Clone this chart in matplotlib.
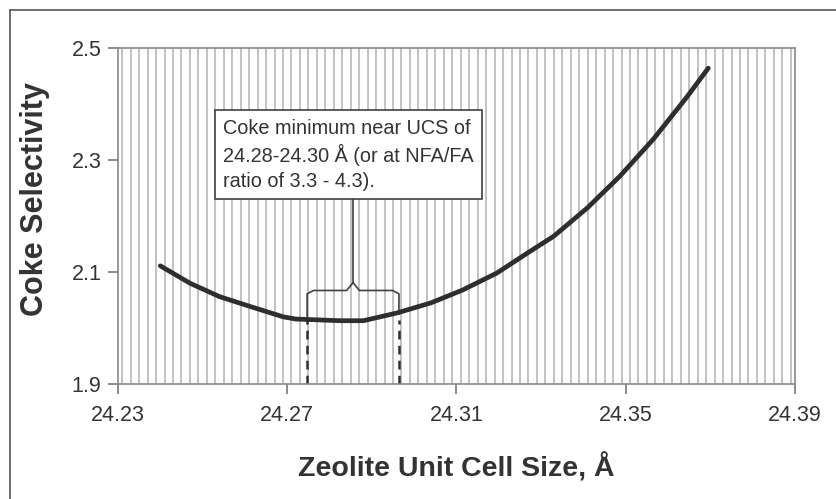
import numpy as np
import matplotlib
matplotlib.use("Agg")
import matplotlib.pyplot as plt
from matplotlib.lines import Line2D

# Data
ucs = [24.240, 24.247, 24.254, 24.261, 24.269, 24.272, 24.2825, 24.288, 24.296,
       24.304, 24.3115, 24.3195, 24.327, 24.333, 24.341, 24.3486, 24.3565, 24.3644, 24.3695]
coke = [2.111, 2.080, 2.056, 2.039, 2.020, 2.016, 2.013, 2.013, 2.027,
        2.045, 2.068, 2.098, 2.135, 2.164, 2.215, 2.271, 2.337, 2.412, 2.464]
x_ticks = [24.23, 24.27, 24.31, 24.35, 24.39]
x_tick_labels = ["24.23", "24.27", "24.31", "24.35", "24.39"]
y_ticks = [1.9, 2.1, 2.3, 2.5]
y_tick_labels = ["1.9", "2.1", "2.3", "2.5"]
range_lo, range_hi = 24.2747, 24.2964
bracket_top = 2.067
bracket_peak = 2.081
curve_at_range = 2.015
box_bottom = 2.233
note = "Coke minimum near UCS of\n24.28-24.30 Å (or at NFA/FA\nratio of 3.3 - 4.3)."

plt.rcParams['font.family'] = ['Liberation Sans', 'DejaVu Sans']
txt = '#333333'

fig = plt.figure(figsize=(8.37, 4.99), dpi=100)
ax = fig.add_axes([118/837, 1-384/499, (795-118)/837, (384-48)/499])
ax.set_xlim(24.23, 24.39)
ax.set_ylim(1.9, 2.5)

# striped background
for xs in np.arange(24.231, 24.39, 0.002):
    ax.axvline(xs, color='#bdbdbd', lw=1.3, zorder=0)

ax.plot(ucs, coke, color='#2e2e2e', lw=3.4, solid_capstyle='round', zorder=3)

# dashed verticals
for xv in (range_lo, range_hi):
    ax.plot([xv, xv], [1.9, curve_at_range], color='#2e2e2e', lw=1.8,
            ls=(0, (3.5, 2.5)), zorder=2)

# bracket
mid = (range_lo + range_hi) / 2
r = 0.0015
br_x = [range_lo, range_lo, range_lo + r, mid - r, mid, mid + r, range_hi - r, range_hi, range_hi]
br_y = [curve_at_range, bracket_top - 0.006, bracket_top, bracket_top, bracket_peak,
        bracket_top, bracket_top, bracket_top - 0.006, curve_at_range + 0.01]
ax.plot(br_x, br_y, color='#404040', lw=1.2, zorder=2)
ax.plot([mid, mid], [bracket_peak, box_bottom], color='#404040', lw=1.2, zorder=2)

ax.text(24.2548, box_bottom + 0.012, note, ha='left', va='bottom', fontsize=14.3, color=txt,
        linespacing=1.36, zorder=5,
        bbox=dict(boxstyle='square,pad=0.42', fc='white', ec='#404040', lw=1.2))

ax.set_xticks(x_ticks)
ax.set_xticklabels(x_tick_labels)
ax.set_yticks(y_ticks)
ax.set_yticklabels(y_tick_labels)
ax.tick_params(axis='both', colors='#777777', labelcolor=txt, labelsize=15.5,
               length=7, width=1.2, direction='out')
ax.tick_params(axis='x', pad=8)
ax.tick_params(axis='y', pad=5)
for s in ax.spines.values():
    s.set_color('#888888')
    s.set_linewidth(1.2)

ax.set_xlabel("Zeolite Unit Cell Size, Å", fontsize=20.5, fontweight='bold',
              color=txt, labelpad=20)
ax.set_ylabel("Coke Selectivity", fontsize=22, fontweight='bold', color=txt)
ax.yaxis.set_label_coords(-68/677, 0.55)

# figure frame (left and top)
fig.add_artist(Line2D([10/837, 10/837], [0, 1-10/499], color='#555555', lw=1.2))
fig.add_artist(Line2D([10/837, 1], [1-10/499, 1-10/499], color='#555555', lw=1.2))

fig.savefig("out.png", dpi=100)
